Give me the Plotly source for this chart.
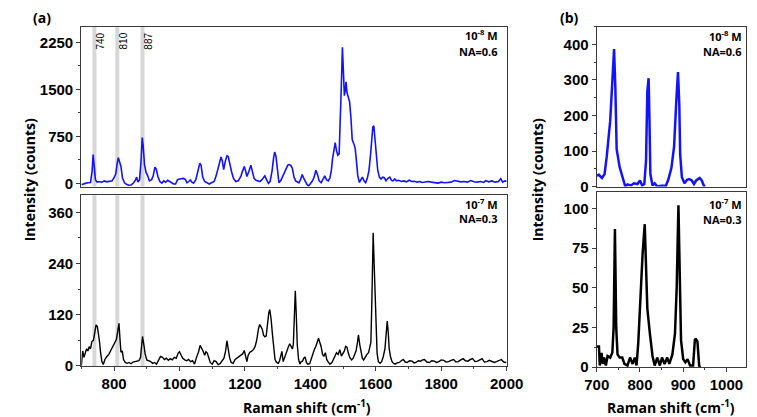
import plotly.graph_objects as go
from plotly.subplots import make_subplots

# (a) espectro 10^-8 M, NA=0.6
x_a_top = [700, 706, 712, 720, 728, 733, 736, 739, 743, 748, 755, 762, 770, 778, 786, 794, 800, 805, 810, 813,
           817, 821, 826, 832, 838, 845, 852, 860, 866, 869, 873, 878, 883, 886, 889, 893, 898, 903, 908, 915,
           920, 925, 929, 934, 940, 946, 952, 958, 964, 970, 976, 982, 988, 994, 1000, 1007, 1013, 1018, 1023, 1028,
           1033, 1038, 1043, 1050, 1056, 1062, 1066, 1071, 1077, 1084, 1091, 1098, 1106, 1112, 1118, 1124, 1127, 1131, 1135, 1140,
           1145, 1149, 1154, 1159, 1165, 1172, 1180, 1188, 1193, 1198, 1202, 1206, 1212, 1218, 1222, 1228, 1234, 1240, 1246, 1252,
           1257, 1261, 1266, 1272, 1277, 1283, 1288, 1291, 1295, 1299, 1304, 1310, 1316, 1321, 1326, 1331, 1336, 1341, 1345, 1350,
           1355, 1360, 1365, 1370, 1375, 1380, 1385, 1390, 1395, 1400, 1405, 1411, 1417, 1422, 1427, 1433, 1439, 1444, 1449, 1455,
           1460, 1464, 1468, 1472, 1476, 1480, 1484, 1488, 1492, 1495, 1498, 1501, 1504, 1507, 1509, 1512, 1516, 1520, 1524, 1528,
           1533, 1537, 1541, 1545, 1550, 1555, 1559, 1564, 1569, 1574, 1579, 1583, 1587, 1591, 1594, 1598, 1602, 1606, 1611, 1616,
           1621, 1626, 1631, 1637, 1643, 1648, 1653, 1658, 1663, 1670, 1678, 1686, 1694, 1702, 1710, 1718, 1726, 1734, 1742, 1750,
           1760, 1770, 1780, 1790, 1800, 1810, 1820, 1830, 1840, 1850, 1860, 1870, 1880, 1890, 1900, 1910, 1920, 1930, 1936, 1945,
           1955, 1965, 1975, 1982, 1988, 1995, 2000]
y_a_top = [-20, -5, 0, 10, 15, 200, 460, 300, 60, 20, 30, 15, 40, 25, 30, 40, 90, 150, 330, 410,
           340, 270, 80, 10, -15, -30, -25, 10, 60, 100, 20, 60, 400, 730, 600, 300, 170, 120, 40, 60,
           130, 260, 230, 110, 30, 5, 40, 20, 50, 30, 20, -10, -10, 60, 70, 80, 80, 60, 10, 30,
           55, 20, 5, 60, 200, 320, 290, 100, 30, 15, -10, 10, 30, 120, 260, 380, 420, 360, 220, 350,
           440, 430, 300, 190, 80, 30, 40, 120, 200, 270, 200, 110, 190, 290, 210, 80, 50, 40, 30, 60,
           100, 120, 60, 0, 30, 200, 420, 500, 430, 200, 10, 50, 120, 190, 230, 290, 300, 280, 240, 100,
           40, 20, 10, 60, 140, 80, 30, -20, -40, -10, 30, 90, 210, 140, 40, 10, 80, 120, 60, 40,
           90, 200, 400, 560, 650, 520, 450, 470, 1000, 1600, 2170, 1800, 1400, 1500, 1620, 1450, 1380, 1300, 1050, 700,
           630, 560, 350, 120, 15, 60, 100, 40, 10, 80, 200, 400, 680, 900, 920, 700, 400, 210, 100, 70,
           100, 90, 40, 80, 100, 50, 40, 70, 40, 50, 30, 40, 25, 50, 30, 35, 20, 30, 15, 25,
           30, 20, 15, 5, 20, 10, 15, 20, 45, 30, 25, 30, 20, 45, 25, 20, 30, 15, 45, 25,
           40, 20, 30, 75, 20, 40, 35]

# (a) espectro 10^-7 M, NA=0.3
x_a_bot = [700, 704, 708, 712, 716, 720, 724, 728, 732, 737, 741, 745, 749, 752, 755, 759, 763, 767, 772, 778,
           784, 790, 796, 802, 807, 811, 815, 818, 821, 825, 829, 834, 840, 846, 852, 858, 864, 870, 876, 881,
           884, 887, 891, 895, 900, 906, 912, 918, 924, 930, 936, 942, 948, 954, 960, 966, 972, 978, 984, 990,
           996, 1000, 1005, 1010, 1016, 1022, 1028, 1034, 1040, 1046, 1052, 1058, 1063, 1068, 1072, 1077, 1081, 1085, 1089, 1094,
           1100, 1106, 1112, 1118, 1124, 1130, 1136, 1141, 1145, 1149, 1153, 1158, 1164, 1170, 1176, 1182, 1188, 1193, 1198, 1202,
           1206, 1210, 1215, 1220, 1226, 1231, 1236, 1241, 1245, 1249, 1253, 1257, 1261, 1265, 1269, 1273, 1276, 1280, 1284, 1288,
           1292, 1297, 1302, 1306, 1310, 1313, 1317, 1321, 1325, 1329, 1333, 1337, 1341, 1345, 1348, 1351, 1354, 1357, 1360, 1364,
           1368, 1372, 1376, 1380, 1384, 1388, 1392, 1398, 1404, 1408, 1413, 1417, 1421, 1425, 1429, 1433, 1437, 1441, 1446, 1450,
           1454, 1460, 1466, 1471, 1476, 1480, 1485, 1490, 1495, 1500, 1504, 1508, 1512, 1516, 1521, 1526, 1531, 1536, 1540, 1544,
           1547, 1551, 1555, 1559, 1563, 1568, 1573, 1578, 1582, 1585, 1588, 1592, 1595, 1598, 1601, 1604, 1608, 1613, 1618, 1623,
           1628, 1632, 1635, 1638, 1641, 1645, 1649, 1654, 1659, 1665, 1672, 1678, 1684, 1690, 1696, 1703, 1711, 1717, 1723, 1730,
           1737, 1743, 1749, 1756, 1764, 1771, 1779, 1786, 1793, 1800, 1808, 1815, 1823, 1830, 1838, 1845, 1852, 1860, 1867, 1874,
           1882, 1889, 1896, 1903, 1911, 1918, 1925, 1932, 1940, 1947, 1955, 1962, 1969, 1976, 1984, 1991, 1999]
y_a_bot = [0, 35, 20, 30, 40, 35, 45, 40, 57, 60, 85, 96, 92, 80, 60, 30, 10, 3, 15, 22,
           27, 36, 45, 52, 62, 80, 100, 65, 32, 35, 15, 8, 6, 8, 5, 9, 10, 10, 12, 20,
           50, 69, 50, 28, 14, 12, 10, 6, 8, 4, 15, 22, 20, 15, 18, 13, 17, 14, 20, 18,
           30, 33, 25, 18, 14, 12, 15, 10, 12, 4, 20, 32, 48, 42, 35, 25, 33, 30, 18, 8,
           4, 12, 10, 3, 5, 12, 18, 35, 59, 40, 20, 8, 6, 15, 18, 22, 25, 28, 36, 20,
           10, 25, 32, 34, 38, 45, 60, 85, 97, 92, 86, 72, 68, 70, 100, 125, 132, 110, 75, 40,
           15, 8, 6, 12, 30, 34, 10, 20, 28, 35, 45, 52, 45, 40, 50, 120, 176, 120, 50, 15,
           4, 10, 11, 18, 21, 8, 4, 5, 20, 31, 40, 46, 58, 65, 55, 45, 28, 22, 31, 15,
           10, 4, 8, 15, 25, 31, 27, 38, 23, 30, 35, 46, 44, 30, 19, 14, 18, 28, 36, 55,
           73, 50, 30, 18, 14, 22, 27, 31, 42, 55, 150, 312, 240, 180, 80, 30, 10, 6, 10, 22,
           40, 80, 105, 80, 40, 22, 11, 6, 4, 7, 8, 12, 15, 9, 8, 12, 11, 7, 8, 12,
           11, 14, 15, 9, 8, 12, 11, 8, 10, 14, 13, 9, 10, 13, 15, 9, 10, 14, 17, 12,
           11, 15, 17, 10, 11, 14, 17, 9, 10, 13, 11, 8, 10, 12, 15, 9, 8]

# (b) 10^-8 M, NA=0.6
x_b_top = [700, 705, 712, 718, 723, 731, 736, 740, 743, 746, 753, 760, 766, 771, 779, 786, 794, 800, 805, 810,
           814, 817, 820, 822, 824, 829, 834, 840, 849, 860, 866, 873, 879, 884, 888, 891, 893, 897, 903, 909,
           914, 920, 925, 930, 938, 943, 948, 951]
y_b_top = [31, 33, 24, 35, 84, 184, 296, 387, 277, 105, 54, 21, 0, 6, 3, 9, 7, 17, 3, 7,
           73, 268, 305, 184, 35, 3, 9, 0, 2, 2, 21, 54, 114, 240, 322, 231, 91, 26, 9, 19,
           21, 17, 7, 17, 24, 17, 2, 0]

# (b) 10^-7 M, NA=0.3
x_b_bot = [700, 705, 707, 711, 714, 717, 721, 725, 731, 736, 739, 742, 745, 748, 753, 759, 764, 771, 777, 783,
           788, 792, 796, 801, 806, 811, 814, 817, 823, 829, 834, 840, 846, 851, 857, 863, 868, 875, 881, 885,
           889, 892, 895, 900, 905, 910, 916, 923, 927, 929, 933, 937, 939]
y_b_bot = [13, 13, 1, 9, 2, 6, 1, 7, 6, 9, 25, 87, 25, 8, 6, 6, 2, 1, 6, 2,
           6, 1, 15, 44, 71, 90, 60, 37, 21, 7, 1, 6, 1, 6, 2, 6, 2, 8, 21, 50,
           102, 50, 17, 5, 3, 5, 1, 1, 17, 18, 16, 1, 0]

peaks = [740, 810, 887]

# ticks
ticks_a_top = [0, 750, 1500, 2250]
ticks_a_bot = [0, 120, 240, 360]
ticks_a_x = [800, 1000, 1200, 1400, 1600, 1800, 2000]
ticks_b_top = [0, 100, 200, 300, 400]
ticks_b_bot = [0, 25, 50, 75, 100]
ticks_b_x = [700, 800, 900, 1000]

BLUE = "rgb(18,18,255)"
TXT = "Open Sans, sans-serif"
NUM = "Liberation Sans, Arial, sans-serif"


def bold(vals):
    return ["<b>%s</b>" % v for v in vals]


fig = make_subplots(rows=2, cols=2)

fig.add_trace(go.Scatter(x=x_a_top, y=y_a_top, mode="lines", line=dict(color=BLUE, width=1.6)), row=1, col=1)
fig.add_trace(go.Scatter(x=x_a_bot, y=y_a_bot, mode="lines", line=dict(color="black", width=1.4)), row=2, col=1)
fig.add_trace(go.Scatter(x=x_b_top, y=y_b_top, mode="lines", line=dict(color=BLUE, width=2.5)), row=1, col=2)
fig.add_trace(go.Scatter(x=x_b_bot, y=y_b_bot, mode="lines", line=dict(color="black", width=2.5)), row=2, col=2)

# faixas cinzas dos picos
for p in peaks:
    for r in [1, 2]:
        fig.add_vrect(x0=p - 6, x1=p + 6, row=r, col=1, fillcolor="rgba(175,175,175,0.5)",
                      line_width=0, layer="below")
    fig.add_annotation(text=str(p), x=p, xshift=6, xref="x", yref="y domain", y=0.975, yanchor="top",
                       xanchor="center", textangle=-90, showarrow=False,
                       font=dict(family=NUM, size=10, color="black"))

ax = dict(showline=True, linecolor="#3a3a3a", linewidth=1.3, mirror=True, showgrid=False, zeroline=False,
          ticks="outside", ticklen=4, tickwidth=1, tickcolor="#3a3a3a",
          tickfont=dict(family=NUM, size=15, color="black"),
          minor=dict(ticks="outside", ticklen=2, tickwidth=1, tickcolor="#3a3a3a"))

# eixos (a)
fig.update_xaxes(ax, domain=[0.083, 0.668], range=[700, 2000], row=1, col=1, showticklabels=False, ticks="",
                 minor=dict(ticks=""))
fig.update_xaxes(ax, domain=[0.083, 0.668], range=[700, 2000], row=2, col=1,
                 tickvals=ticks_a_x, ticktext=bold(ticks_a_x), minor=dict(dtick=100, tick0=700))
fig.update_yaxes(ax, domain=[0.5635, 0.9544], range=[-50, 2500], row=1, col=1,
                 tickvals=ticks_a_top, ticktext=bold(ticks_a_top), minor=dict(dtick=375, tick0=0))
fig.update_yaxes(ax, domain=[0.125, 0.542], range=[0, 400], row=2, col=1,
                 tickvals=ticks_a_bot, ticktext=bold(ticks_a_bot), minor=dict(dtick=60, tick0=0))

# eixos (b)
fig.update_xaxes(ax, domain=[0.792, 0.997], range=[700, 1045], row=1, col=2, showticklabels=False, ticks="",
                 minor=dict(ticks=""))
fig.update_xaxes(ax, domain=[0.792, 0.997], range=[700, 1045], row=2, col=2,
                 tickvals=ticks_b_x, ticktext=bold(ticks_b_x), minor=dict(dtick=50, tick0=700))
fig.update_yaxes(ax, domain=[0.5635, 0.9544], range=[0, 450], row=1, col=2,
                 tickvals=ticks_b_top, ticktext=bold(ticks_b_top), minor=dict(dtick=50, tick0=0))
fig.update_yaxes(ax, domain=[0.122, 0.549], range=[0, 110], row=2, col=2,
                 tickvals=ticks_b_bot, ticktext=bold(ticks_b_bot), minor=dict(dtick=12.5, tick0=0))

lab = dict(family=TXT, size=11, color="black", weight="bold")
for xr, yr, conc, na, yc, yn in [("x domain", "y domain", "10<sup>-8</sup> M", "NA=0.6", 0.945, 0.847),
                                 ("x3 domain", "y3 domain", "10<sup>-7</sup> M", "NA=0.3", 0.948, 0.862),
                                 ("x2 domain", "y2 domain", "10<sup>-8</sup> M", "NA=0.6", 0.939, 0.847),
                                 ("x4 domain", "y4 domain", "10<sup>-7</sup> M", "NA=0.3", 0.933, 0.848)]:
    fig.add_annotation(text=conc, xref=xr, yref=yr, x=0.985, y=yc, xanchor="right", yanchor="middle",
                       showarrow=False, font=lab)
    fig.add_annotation(text=na, xref=xr, yref=yr, x=0.985, y=yn, xanchor="right", yanchor="middle",
                       showarrow=False, font=lab)

tit = dict(family=TXT, size=14, color="black", weight="bold")
for xp, yp, txt, ang in [(9, 175, "Intensity (counts)", -90), (538, 175, "Intensity (counts)", -90),
                         (298, 407, "Raman shift (cm<sup>-1</sup>)", 0), (677, 407, "Raman shift (cm<sup>-1</sup>)", 0)]:
    fig.add_annotation(text=txt, xref="paper", yref="paper", x=xp / 757, y=1 - yp / 417, xanchor="center",
                       yanchor="middle", textangle=ang, showarrow=False, font=tit)

for xp, txt in [(22, "(a)"), (571, "(b)")]:
    fig.add_annotation(text=txt, xref="paper", yref="paper", x=xp / 757, y=1 - 10 / 417, xanchor="center",
                       yanchor="middle", showarrow=False,
                       font=dict(family=TXT, size=14, color="black", weight="bold"))

fig.update_layout(width=757, height=417, margin=dict(l=0, r=0, t=0, b=0), showlegend=False,
                  plot_bgcolor="white", paper_bgcolor="white")

fig.write_html("out.html")
